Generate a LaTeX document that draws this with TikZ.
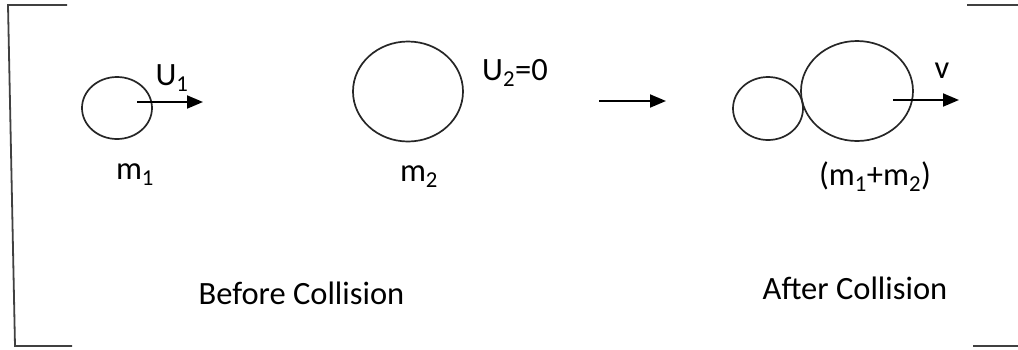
\documentclass[tikz,border=0pt]{standalone}
\usepackage{fontspec}
\setmainfont{Carlito}
\usetikzlibrary{shapes.geometric,arrows.meta}
\begin{document}
\begin{tikzpicture}[x=1pt,y=-1pt,
  ball/.style={draw=black!85,line width=1.7pt,ellipse,inner sep=0pt},
  lbl/.style={font=\fontsize{32.5}{36}\selectfont,text=black,inner sep=0pt},
  vel/.style={line width=1.9pt,-{Triangle[length=16pt,width=13pt]}},
  frame/.style={draw=black!75,line width=1.8pt}]
\useasboundingbox (0,0) rectangle (1018,349);
% brackets
\draw[frame] (67,5) -- (8,5) -- (15,346) -- (72,346);
\draw[frame] (967,5) -- (1018,5);
\draw[frame] (973,346) -- (1018,346);
% before collision
\node[ball,minimum width=70pt,minimum height=62pt] (b1) at (117,108) {};
\node[ball,minimum width=110pt,minimum height=100pt] (b2) at (408,91.5) {};
\coordinate (u1s) at (137,102);
\coordinate (u1e) at (203,102);
\draw[vel] (u1s) -- (u1e);
\node[lbl] (lu1) at (172,78) {U\textsubscript{1}};
\node[lbl] (lm1) at (135,175) {m\textsubscript{1}};
\node[lbl] (lu2) at (515,73) {U\textsubscript{2}=0};
\node[lbl] (lm2) at (419,177) {m\textsubscript{2}};
% middle arrow
\coordinate (ma) at (599,101);
\coordinate (mb) at (666,101);
\draw[vel] (ma) -- (mb);
% after collision
\node[ball,minimum width=70pt,minimum height=63pt] (c1) at (768,108.5) {};
\node[ball,minimum width=112pt,minimum height=100pt] (c2) at (857,91) {};
\coordinate (vs) at (893,100);
\coordinate (ve) at (959,100);
\draw[vel] (vs) -- (ve);
\node[lbl] (lv) at (942,71) {v};
\node[lbl] (lm12) at (875,177) {(m\textsubscript{1}+m\textsubscript{2})};
% captions
\node[lbl] (bc) at (301.5,293) {Before Collision};
\node[lbl] (ac) at (855,288) {After Collision};
\end{tikzpicture}
\end{document}
